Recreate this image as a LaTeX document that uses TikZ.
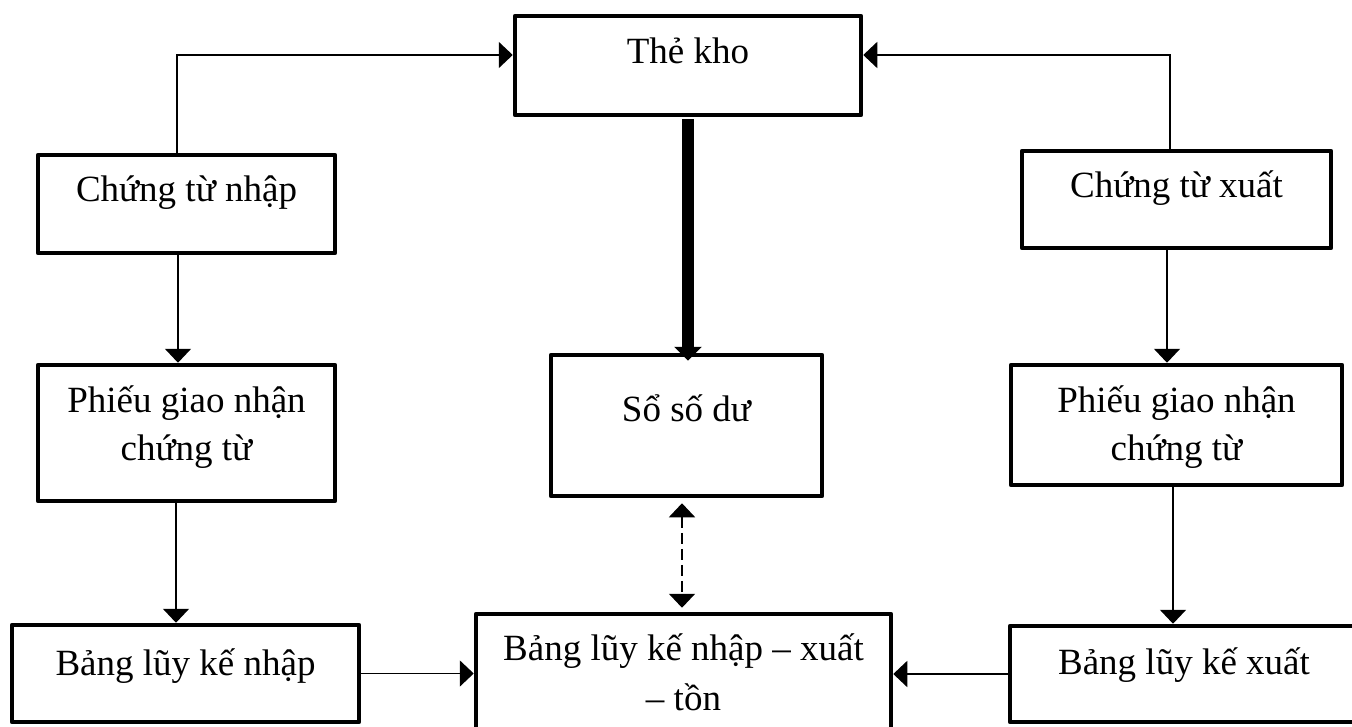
\documentclass[tikz,border=0pt]{standalone}
\usepackage{fontspec}
\setmainfont{Liberation Serif}
\usetikzlibrary{arrows.meta}

\begin{document}
\begin{tikzpicture}[x=1pt,y=-1pt,
  kbox/.style={draw, line width=4.5pt, line join=round, inner sep=0pt,
    anchor=base, align=center, font=\fontsize{37}{48}\selectfont},
  conn/.style={line width=1.8pt, -{Triangle[width=26pt,length=14pt]}}]

  \useasboundingbox (0,0) rectangle (1352,726);

  %% boxes (anchor = baseline of the last line)
  \node[kbox, minimum width=346pt, text height=47pt, text depth=52pt]
  (the) at (688,63) {Thẻ kho};
  \node[kbox, minimum width=297pt, text height=46pt, text depth=52pt]
  (ctnhap) at (186.5,201) {Chứng từ nhập};
  \node[kbox, minimum width=309pt, text height=46pt, text depth=51pt]
  (ctxuat) at (1176.5,197) {Chứng từ xuất};
  \node[kbox, minimum width=297pt, text height=95pt, text depth=41pt]
  (pgnhap) at (186.5,460) {Phiếu giao nhận\\chứng từ};
  \node[kbox, minimum width=271pt, text height=66pt, text depth=75pt]
  (sodu) at (686.5,421) {Sổ số dư};
  \node[kbox, minimum width=331pt, text height=95pt, text depth=25pt]
  (pgxuat) at (1176.5,460) {Phiếu giao nhận\\chứng từ};
  \node[kbox, minimum width=347pt, text height=50pt, text depth=47pt]
  (bnhap) at (185.5,675) {Bảng lũy kế nhập};
  \node[kbox, minimum width=415pt, text height=96pt, text depth=40pt]
  (bnxt) at (683.5,710) {Bảng lũy kế nhập – xuất\\[2pt]– tồn};
  \node[kbox, minimum width=352pt, text height=48pt, text depth=48pt]
  (bxuat) at (1186,674) {Bảng lũy kế xuất\hspace*{4pt}};

  %% to the kho
  \coordinate (nl) at (177,55);
  \coordinate (nr) at (1170,55);
  \draw[conn] (ctnhap.north -| nl) -- (nl) -- (nl -| the.west);
  \draw[conn] (ctxuat.north -| nr) -- (nr) -- (nr -| the.east);

  %% down the sides
  \draw[conn] ([xshift=-8.5pt]ctnhap.south) -- ([xshift=-8.5pt]ctnhap.south |- pgnhap.north);
  \draw[conn] ([xshift=-10.5pt]pgnhap.south) -- ([xshift=-10.5pt]pgnhap.south |- bnhap.north);
  \draw[conn] ([xshift=-9.5pt]ctxuat.south) -- ([xshift=-9.5pt]ctxuat.south |- pgxuat.north);
  \draw[conn] ([xshift=-3.5pt]pgxuat.south) -- ([xshift=-3.5pt]pgxuat.south |- bxuat.north);

  %% centre
  \draw[line width=12pt, -{Triangle[width=27pt,length=14pt]},
  shorten <=2pt, shorten >=-8pt] (the.south) -- (the.south |- sodu.north);
  \draw[line width=1.8pt, dash pattern=on 11pt off 5pt,
  {Triangle[width=26pt,length=14pt]}-{Triangle[width=26pt,length=14pt]},
  shorten <=5pt, shorten >=4pt]
  ([xshift=-4.5pt]sodu.south) -- ([xshift=-4.5pt]sodu.south |- bnxt.north);

  %% into the bottom table
  \draw[conn] (bnhap.east) -- (bnhap.east -| bnxt.west);
  \draw[conn] (bxuat.west) -- (bxuat.west -| bnxt.east);

\end{tikzpicture}
\end{document}
